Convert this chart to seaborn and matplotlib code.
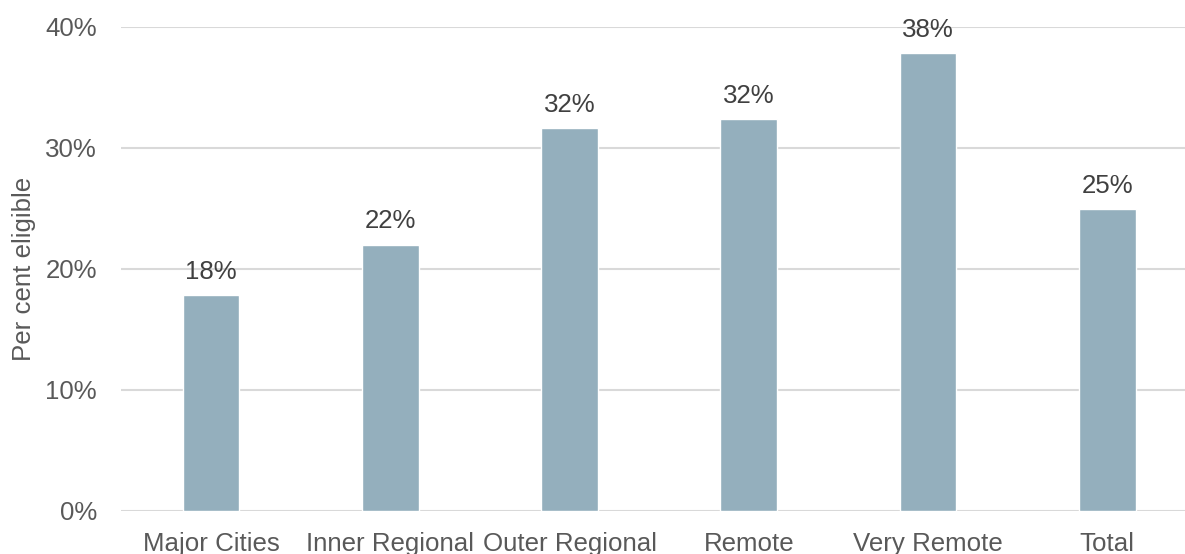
import matplotlib
matplotlib.use("Agg")
import matplotlib.pyplot as plt
import seaborn as sns
import pandas as pd

categories = ["Major Cities", "Inner Regional", "Outer Regional", "Remote", "Very Remote", "Total"]
values = [17.8, 22.0, 31.6, 32.4, 37.8, 24.9]
labels = ["18%", "22%", "32%", "32%", "38%", "25%"]
yticks = [0, 10, 20, 30, 40]
ytick_labels = ["0%", "10%", "20%", "30%", "40%"]

sns.set_theme(style="white")
plt.rcParams["font.family"] = ["Liberation Sans", "DejaVu Sans"]

df = pd.DataFrame({"category": categories, "value": values})

fig = plt.figure(figsize=(11.85, 5.54), dpi=100)
ax = fig.add_axes([121.3 / 1185, 43.3 / 554, 1 - 121.3 / 1185, (510.7 - 26.7) / 554])

sns.barplot(data=df, x="category", y="value", color="#94AFBD", saturation=1,
            width=0.316, ax=ax, zorder=3)

ax.set_ylim(0, 40)
ax.set_xlim(-0.5, 5.433)
ax.set_yticks(yticks)
ax.set_yticklabels(ytick_labels)
ax.yaxis.grid(True, color="#D9D9D9", linewidth=1.5, zorder=0)
ax.set_axisbelow(True)
for s in ax.spines.values():
    s.set_visible(False)
ax.tick_params(axis="both", length=0, labelsize=18.6, colors="#595959")
ax.tick_params(axis="y", pad=17.5)
ax.tick_params(axis="x", pad=15)
ax.set_xlabel("")
ax.set_ylabel("Per cent eligible", fontsize=18.6, color="#595959", labelpad=7)

for i, (v, lab) in enumerate(zip(values, labels)):
    ax.annotate(lab, xy=(i, v), xytext=(0, 8), textcoords="offset points",
                ha="center", va="bottom", fontsize=18.6, color="#404040")

fig.savefig("out.png", dpi=100)
